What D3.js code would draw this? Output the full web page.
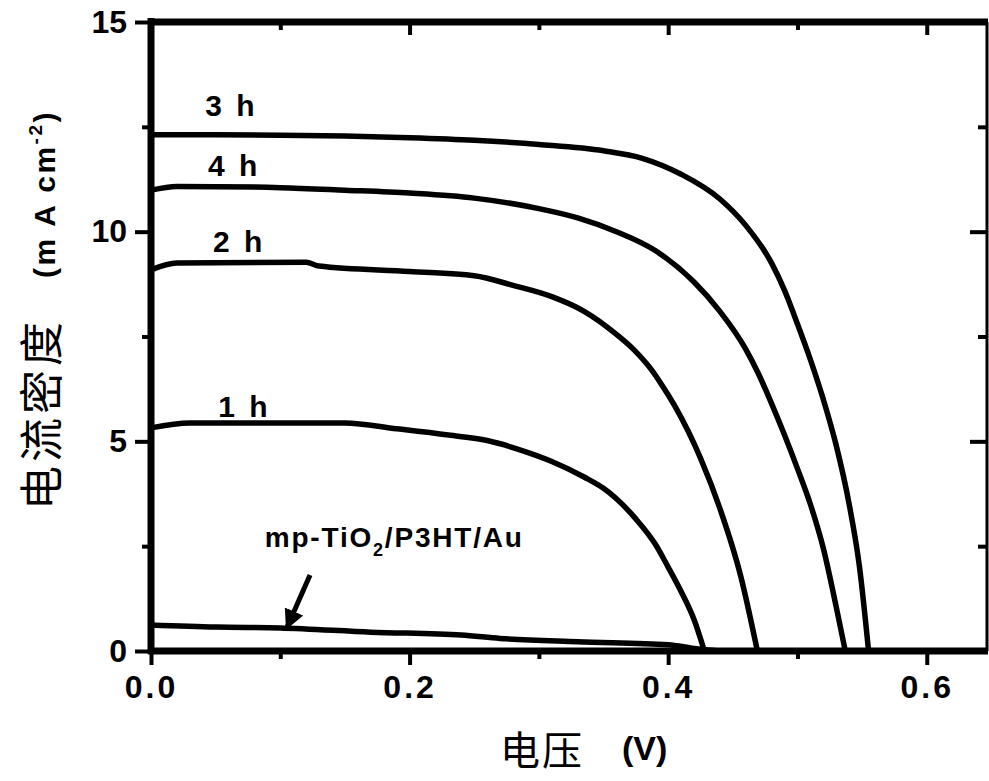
<!DOCTYPE html>
<html>
<head>
<meta charset="utf-8">
<script src="https://cdn.jsdelivr.net/npm/d3@7/dist/d3.min.js"></script>
<style>
  body { margin: 0; background: #fff; }
  svg { display: block; }
</style>
</head>
<body>
<div id="chart"></div>
<script>
// J-V curves, voltage (V) and current density (mA cm^-2)
const v3h = [0, 0.05, 0.1, 0.15, 0.2, 0.25, 0.3, 0.35, 0.38, 0.41, 0.44, 0.46, 0.48, 0.49, 0.5, 0.51, 0.52, 0.53, 0.54, 0.548, 0.555];
const j3h = [12.31, 12.31, 12.3, 12.28, 12.24, 12.18, 12.08, 11.93, 11.75, 11.37, 10.78, 10.15, 9.25, 8.6, 7.8, 6.95, 6.0, 4.9, 3.5, 2.0, 0];

const v4h = [0, 0.02, 0.1, 0.15, 0.2, 0.25, 0.3, 0.33, 0.36, 0.39, 0.42, 0.44, 0.46, 0.47, 0.48, 0.49, 0.5, 0.51, 0.52, 0.53, 0.537];
const j4h = [10.99, 11.08, 11.05, 10.99, 10.92, 10.8, 10.55, 10.33, 10.0, 9.55, 8.8, 8.1, 7.2, 6.6, 5.9, 5.15, 4.35, 3.5, 2.45, 1.05, 0];

const v2h = [0, 0.02, 0.12, 0.13, 0.2, 0.25, 0.28, 0.31, 0.335, 0.36, 0.373, 0.386, 0.395, 0.405, 0.425, 0.44, 0.456, 0.469];
const j2h = [9.09, 9.25, 9.27, 9.18, 9.05, 8.95, 8.72, 8.45, 8.1, 7.55, 7.2, 6.75, 6.35, 5.85, 4.6, 3.4, 1.8, 0];

const v1h = [0, 0.03, 0.15, 0.19, 0.23, 0.26, 0.29, 0.31, 0.335, 0.35, 0.36, 0.375, 0.39, 0.4, 0.41, 0.42, 0.428];
const j1h = [5.32, 5.44, 5.44, 5.3, 5.15, 5.02, 4.75, 4.52, 4.15, 3.88, 3.63, 3.15, 2.55, 2.0, 1.42, 0.75, 0];

const vRef = [0, 0.05, 0.1, 0.17, 0.24, 0.27, 0.33, 0.4, 0.42, 0.44];
const jRef = [0.62, 0.57, 0.55, 0.45, 0.38, 0.3, 0.22, 0.15, 0.06, 0];

const xTicks = [0, 0.2, 0.4, 0.6];
const xMinor = [0.1, 0.3, 0.5];
const yTicks = [0, 5, 10, 15];
const yMinor = [2.5, 7.5, 12.5];

const labelText = ['3 h', '4 h', '2 h', '1 h'];
const labelV = [0.042, 0.044, 0.048, 0.052];
const labelJ = [12.76, 11.33, 9.52, 5.58];

const refLabelV = 0.088, refLabelJ = 2.48;
const arrowFrom = [0.123, 1.81];
const arrowTo = [0.105, 0.55];

const series = [
  { v: v3h, j: j3h },
  { v: v4h, j: j4h },
  { v: v2h, j: j2h },
  { v: v1h, j: j1h },
  { v: vRef, j: jRef }
];

const W = 989, H = 781;
const plot = { left: 151, right: 987, top: 22, bottom: 651 };

const svg = d3.select('#chart').append('svg')
  .attr('width', W).attr('height', H);

const x = d3.scaleLinear().domain([0, 0.6466]).range([plot.left, plot.right]);
const y = d3.scaleLinear().domain([0, 15]).range([plot.bottom, plot.top]);

const tickFont = '"Liberation Sans", Arial, sans-serif';

function styleAxis(g, width) {
  g.select('.domain').remove();
  g.selectAll('line').attr('stroke', '#000').attr('stroke-width', width);
  g.selectAll('text')
    .attr('fill', '#000')
    .attr('font-family', tickFont)
    .attr('font-weight', 'bold')
    .attr('font-size', 32)
    .attr('letter-spacing', 3);
}

// bottom
svg.append('g').attr('transform', `translate(0,${plot.bottom})`)
  .call(d3.axisBottom(x).tickValues(xTicks).tickSize(14).tickPadding(10).tickFormat(d3.format('.1f')))
  .call(g => styleAxis(g, 4));
svg.append('g').attr('transform', `translate(0,${plot.bottom})`)
  .call(d3.axisBottom(x).tickValues(xMinor).tickSize(8).tickFormat(''))
  .call(g => styleAxis(g, 4));

// top (inward)
svg.append('g').attr('transform', `translate(0,${plot.top})`)
  .call(d3.axisTop(x).tickValues(xTicks).tickSize(-13).tickFormat(''))
  .call(g => styleAxis(g, 4));
svg.append('g').attr('transform', `translate(0,${plot.top})`)
  .call(d3.axisTop(x).tickValues(xMinor).tickSize(-8).tickFormat(''))
  .call(g => styleAxis(g, 4));

// left
svg.append('g').attr('transform', `translate(${plot.left},0)`)
  .call(d3.axisLeft(y).tickValues(yTicks).tickSize(16).tickPadding(8).tickFormat(d3.format('d')))
  .call(g => styleAxis(g, 4))
  .call(g => g.selectAll('text').attr('letter-spacing', 0));
svg.append('g').attr('transform', `translate(${plot.left},0)`)
  .call(d3.axisLeft(y).tickValues(yMinor).tickSize(9).tickFormat(''))
  .call(g => styleAxis(g, 4));

// right (inward)
svg.append('g').attr('transform', `translate(${plot.right},0)`)
  .call(d3.axisRight(y).tickValues(yTicks).tickSize(-17).tickFormat(''))
  .call(g => styleAxis(g, 4));
svg.append('g').attr('transform', `translate(${plot.right},0)`)
  .call(d3.axisRight(y).tickValues(yMinor).tickSize(-9).tickFormat(''))
  .call(g => styleAxis(g, 4));

// frame
svg.append('line').attr('x1', plot.left).attr('x2', plot.left).attr('y1', plot.top - 4).attr('y2', plot.bottom + 3)
  .attr('stroke', '#000').attr('stroke-width', 7);
svg.append('line').attr('x1', plot.left - 3).attr('x2', plot.right + 1).attr('y1', plot.top).attr('y2', plot.top)
  .attr('stroke', '#000').attr('stroke-width', 7);
svg.append('line').attr('x1', plot.left - 3).attr('x2', plot.right + 1).attr('y1', plot.bottom).attr('y2', plot.bottom)
  .attr('stroke', '#000').attr('stroke-width', 7);
svg.append('line').attr('x1', plot.right).attr('x2', plot.right).attr('y1', plot.top).attr('y2', plot.bottom)
  .attr('stroke', '#000').attr('stroke-width', 3);

// curves
const line = d3.line()
  .x(d => x(d[0]))
  .y(d => y(d[1]))
  .curve(d3.curveMonotoneX);

svg.append('g').selectAll('path')
  .data(series)
  .join('path')
  .attr('d', s => line(s.v.map((v, i) => [v, s.j[i]])))
  .attr('fill', 'none')
  .attr('stroke', '#000')
  .attr('stroke-width', 5.5)
  .attr('stroke-linejoin', 'round');

// curve labels
svg.append('g').selectAll('text')
  .data(labelText)
  .join('text')
  .attr('x', (d, i) => x(labelV[i]))
  .attr('y', (d, i) => y(labelJ[i]))
  .attr('font-family', tickFont)
  .attr('font-weight', 'bold')
  .attr('font-size', 30)
  .attr('letter-spacing', 3)
  .text(d => d);

// reference cell label
const ref = svg.append('text')
  .attr('x', x(refLabelV))
  .attr('y', y(refLabelJ))
  .attr('font-family', tickFont)
  .attr('font-weight', 'bold')
  .attr('font-size', 28)
  .attr('letter-spacing', 1.8);
ref.append('tspan').text('mp-TiO');
ref.append('tspan').attr('font-size', 18).attr('dy', 9).text('2');
ref.append('tspan').attr('dy', -9).text('/P3HT/Au');

// arrow
svg.append('defs').append('marker')
  .attr('id', 'head')
  .attr('viewBox', '0 0 10 10')
  .attr('refX', 9).attr('refY', 5)
  .attr('markerWidth', 4).attr('markerHeight', 4)
  .attr('orient', 'auto')
  .append('path').attr('d', 'M0,0 L10,5 L0,10 Z').attr('fill', '#000');

svg.append('line')
  .attr('x1', x(arrowFrom[0])).attr('y1', y(arrowFrom[1]))
  .attr('x2', x(arrowTo[0])).attr('y2', y(arrowTo[1]))
  .attr('stroke', '#000').attr('stroke-width', 5)
  .attr('marker-end', 'url(#head)');

// axis titles
const cjk = '"Noto Sans CJK SC", "Noto Sans", sans-serif';

const xt = svg.append('g');
xt.append('text')
  .attr('x', 500).attr('y', 765)
  .attr('font-family', cjk)
  .attr('font-size', 40)
  .attr('letter-spacing', 2)
  .text('电压');
xt.append('text')
  .attr('x', 622).attr('y', 760)
  .attr('font-family', tickFont)
  .attr('font-weight', 'bold')
  .attr('font-size', 34)
  .text('(V)');

const yt = svg.append('g').attr('transform', 'translate(58,0) rotate(-90)');
yt.append('text')
  .attr('x', -510).attr('y', 0)
  .attr('font-family', cjk)
  .attr('font-size', 44)
  .attr('letter-spacing', 4)
  .text('电流密度');
const yu = yt.append('text')
  .attr('x', -110).attr('y', -3)
  .attr('text-anchor', 'end')
  .attr('font-family', tickFont)
  .attr('font-weight', 'bold')
  .attr('font-size', 30)
  .attr('letter-spacing', 2.5);
yu.append('tspan').text('(m A cm');
yu.append('tspan').attr('font-size', 19).attr('dy', -13).text('-2');
yu.append('tspan').attr('dy', 13).text(')');
</script>
</body>
</html>
